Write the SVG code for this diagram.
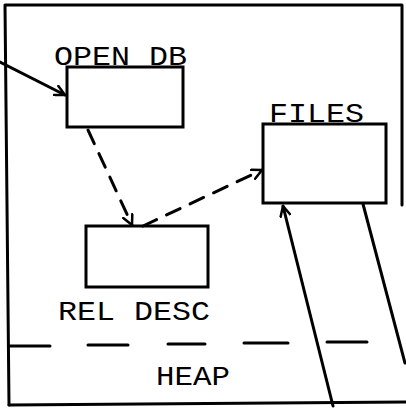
<svg xmlns="http://www.w3.org/2000/svg" width="406" height="408" viewBox="0 0 406 408">
<defs>
<style>
.ln{fill:none;stroke:#000;stroke-width:3;stroke-linecap:round;stroke-linejoin:round}
.box{fill:#fff;stroke:#000;stroke-width:3}
.dash{stroke-dasharray:15 11}
.lbl{font-family:"Liberation Mono","Courier New",monospace;font-size:27px;fill:#000}
</style>
<marker id="ah" viewBox="0 0 12 12" refX="11" refY="6" markerWidth="12" markerHeight="12" markerUnits="userSpaceOnUse" orient="auto">
<path d="M1,1 L11,6 L1,11" fill="none" stroke="#000" stroke-width="2.5" stroke-linecap="round" stroke-linejoin="round"/>
</marker>
</defs>
<rect width="406" height="408" fill="#fff"/>
<g id="frame">
<path class="ln" d="M9,405 L5,5 L402,5 L402,205"/>
<path class="ln" d="M9,405 L406,402"/>
<path class="ln" d="M10,346 L50,346 M88,345 L128,345 M168,344 L205,344 M244,343 L288,343 M327,342 L367,342"/>
</g>
<g id="open-db">
<rect class="box" x="67" y="67" width="116" height="60"/>
<text class="lbl" x="54" y="65" textLength="133" lengthAdjust="spacingAndGlyphs">OPEN DB</text>
</g>
<g id="files">
<rect class="box" x="263" y="124" width="123" height="79"/>
<text class="lbl" x="269" y="122" textLength="95" lengthAdjust="spacingAndGlyphs">FILES</text>
</g>
<g id="rel-desc">
<rect class="box" x="86" y="226" width="122" height="61"/>
<text class="lbl" x="58" y="320" textLength="152" lengthAdjust="spacingAndGlyphs">REL DESC</text>
</g>
<g id="heap">
<text class="lbl" x="156" y="385" textLength="74" lengthAdjust="spacingAndGlyphs">HEAP</text>
</g>
<g id="connectors">
<path class="ln" d="M0,62 L65,95" marker-end="url(#ah)"/>
<path class="ln dash" d="M88,130 L132,225" marker-end="url(#ah)"/>
<path class="ln dash" d="M143,226 L262,170" marker-end="url(#ah)"/>
<path class="ln" d="M333,406 L283,206" marker-end="url(#ah)"/>
<path class="ln" d="M363,204 L405,363"/>
</g>
</svg>
